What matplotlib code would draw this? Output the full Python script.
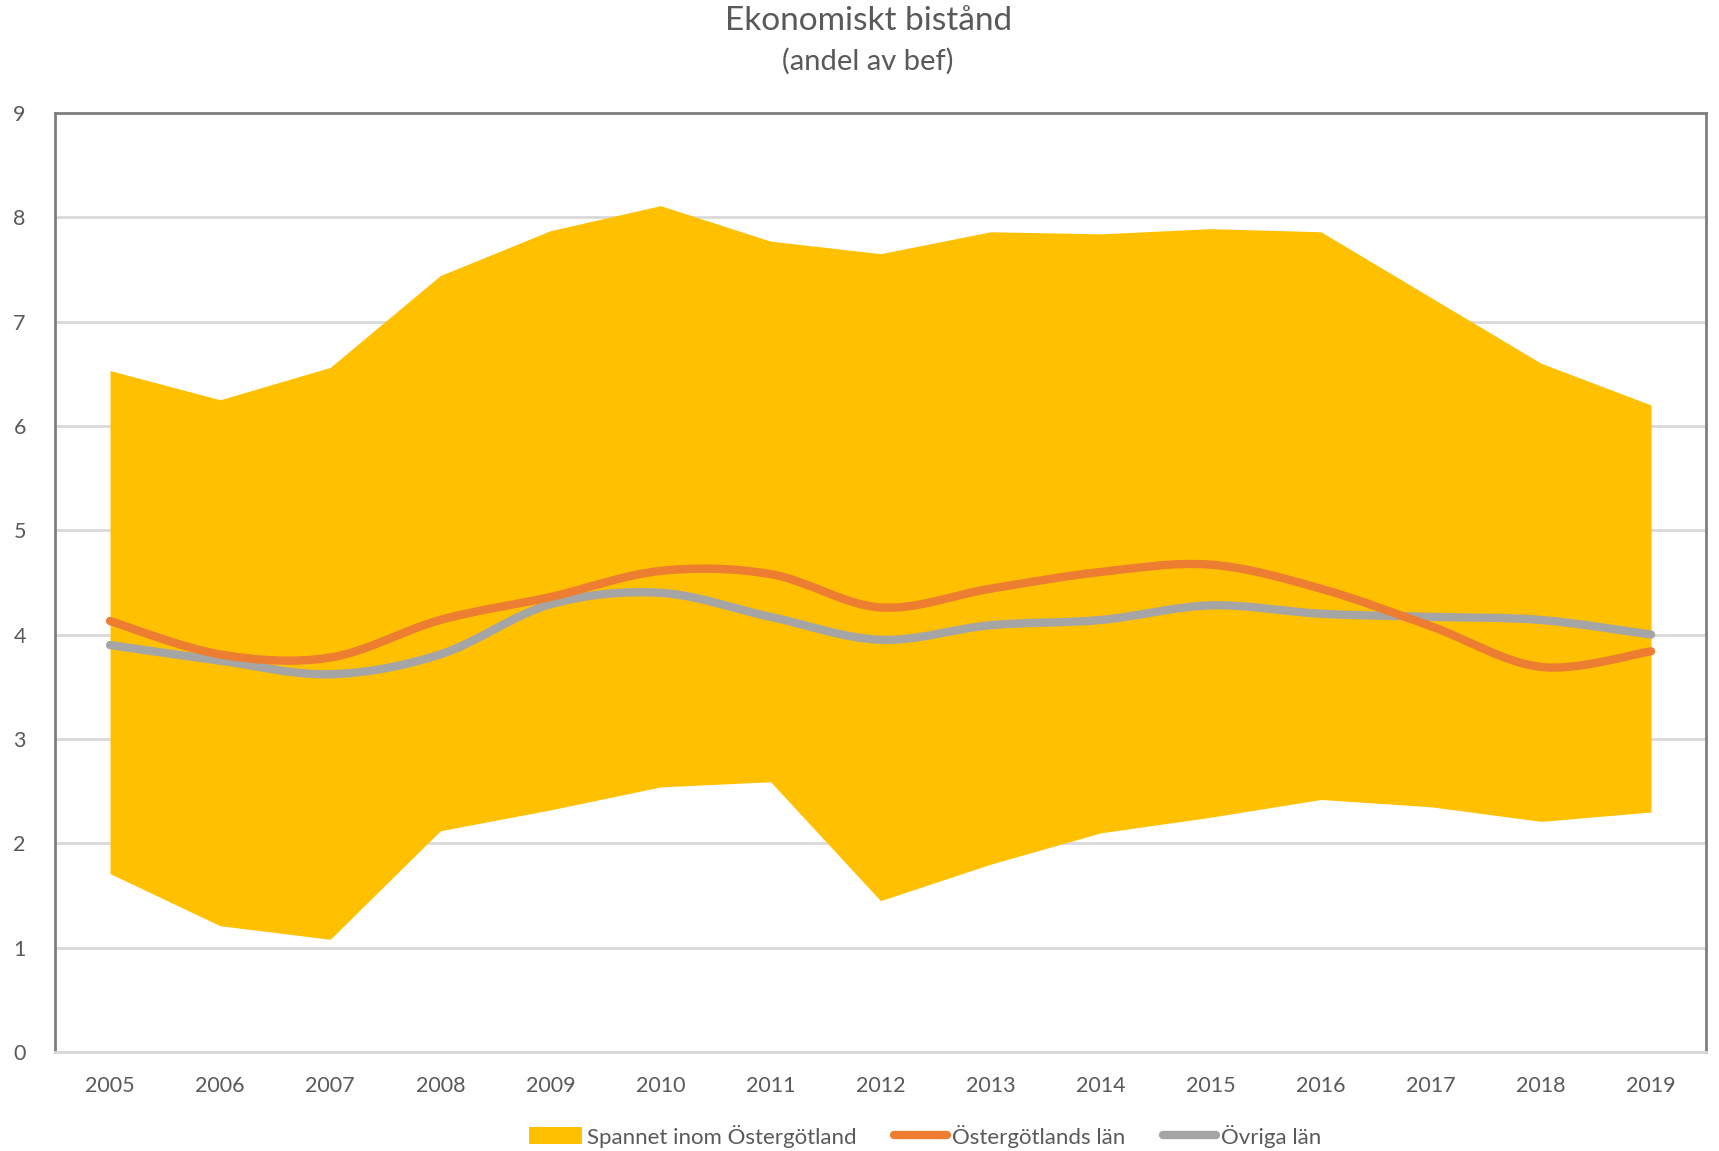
import numpy as np
import matplotlib.pyplot as plt
from matplotlib.path import Path
from matplotlib.patches import PathPatch, Patch
from matplotlib.lines import Line2D

plt.rcParams['font.family'] = ['Lato', 'DejaVu Sans']

years = list(range(2005, 2020))
band_high = [6.53, 6.25, 6.56, 7.44, 7.87, 8.11, 7.77, 7.65, 7.86, 7.84, 7.89, 7.86, 7.23, 6.60, 6.20]
band_low = [1.71, 1.21, 1.08, 2.12, 2.32, 2.54, 2.59, 1.45, 1.80, 2.10, 2.25, 2.42, 2.35, 2.21, 2.30]
ostergotland = [4.13, 3.81, 3.78, 4.14, 4.36, 4.61, 4.58, 4.26, 4.44, 4.60, 4.67, 4.44, 4.08, 3.69, 3.84]
ovriga = [3.90, 3.75, 3.62, 3.81, 4.29, 4.40, 4.17, 3.95, 4.09, 4.14, 4.28, 4.20, 4.17, 4.14, 4.00]

text_col = '#595959'


def smooth_path(xs, ys):
    # Excel-like smoothed line: Catmull-Rom segments as cubic Bezier
    pts = np.column_stack([xs, ys]).astype(float)
    n = len(pts)
    verts = [pts[0]]
    codes = [Path.MOVETO]
    for i in range(n - 1):
        p0 = pts[max(i - 1, 0)]
        p1 = pts[i]
        p2 = pts[i + 1]
        p3 = pts[min(i + 2, n - 1)]
        c1 = p1 + (p2 - p0) / 6.0
        c2 = p2 - (p3 - p1) / 6.0
        verts += [c1, c2, p2]
        codes += [Path.CURVE4] * 3
    return Path(verts, codes)


fig = plt.figure(figsize=(17.19, 11.51), dpi=100)
ax = fig.add_axes([0.032, 0.086, 0.9605, 0.816])

ax.fill_between(years, band_low, band_high, color='#FFC000', lw=0, zorder=2)

ax.add_patch(PathPatch(smooth_path(years, ostergotland), fill=False,
                       edgecolor='#ED7D31', lw=6, capstyle='round', zorder=4))
ax.add_patch(PathPatch(smooth_path(years, ovriga), fill=False,
                       edgecolor='#A5A5A5', lw=6, capstyle='round', zorder=3))

ax.set_xlim(2004.5, 2019.5)
ax.set_ylim(0, 9)
ax.set_xticks(years)
ax.set_yticks(range(0, 10))
ax.grid(axis='y', color='#D9D9D9', lw=2, zorder=0)
ax.set_axisbelow(True)
ax.tick_params(axis='both', length=0, labelsize=15.5, labelcolor=text_col)
ax.tick_params(axis='x', pad=17)
ax.tick_params(axis='y', pad=21)

for s in ['top', 'left', 'right']:
    ax.spines[s].set_color('#7F7F7F')
    ax.spines[s].set_linewidth(2)
ax.spines['bottom'].set_color('#D9D9D9')
ax.spines['bottom'].set_linewidth(2)

fig.text(0.505, 0.982, 'Ekonomiskt bistånd', ha='center', va='center',
         fontsize=24, color=text_col)
fig.text(0.505, 0.947, '(andel av bef)', ha='center', va='center',
         fontsize=21, color=text_col)

handles = [Patch(facecolor='#FFC000', edgecolor='none'),
           Line2D([0], [0], color='#ED7D31', lw=6, solid_capstyle='round'),
           Line2D([0], [0], color='#A5A5A5', lw=6, solid_capstyle='round')]
labels = ['Spannet inom Östergötland', 'Östergötlands län', 'Övriga län']
fig.legend(handles, labels, loc='center', bbox_to_anchor=(0.538, 0.013), ncol=3,
           frameon=False, fontsize=16, labelcolor=text_col, handlelength=2.4,
           handleheight=0.8, handletextpad=0.2, columnspacing=1.7)

fig.savefig('out.png', dpi=100, facecolor='white')
